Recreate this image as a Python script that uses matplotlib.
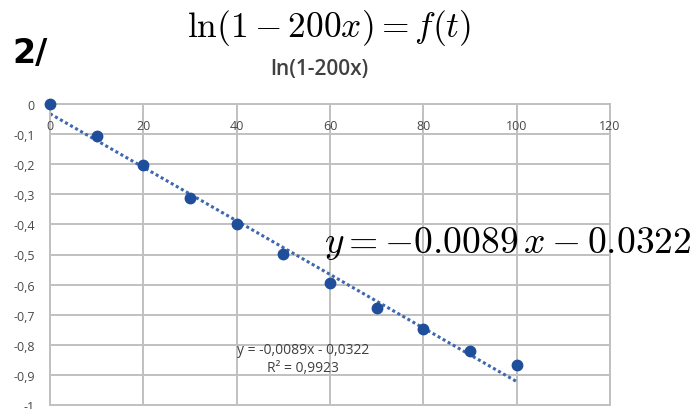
import numpy as np
import matplotlib.pyplot as plt

# measured points
t = [0, 10, 20, 30, 40, 50, 60, 70, 80, 90, 100]
ln_vals = [0.0, -0.107, -0.204, -0.312, -0.400, -0.498, -0.596, -0.677, -0.748, -0.820, -0.866]

# excel trendline
slope = -0.0089
intercept = -0.0322
r2_text = "R² = 0,9923"

x_ticks = [0, 20, 40, 60, 80, 100, 120]
y_ticks = [0, -0.1, -0.2, -0.3, -0.4, -0.5, -0.6, -0.7, -0.8, -0.9, -1]
y_labels = ["0", "-0,1", "-0,2", "-0,3", "-0,4", "-0,5", "-0,6", "-0,7", "-0,8", "-0,9", "-1"]

plt.rcParams['font.family'] = ['Open Sans', 'DejaVu Sans']
plt.rcParams['mathtext.fontset'] = 'cm'

fig = plt.figure(figsize=(7, 4.1), dpi=100)
ax = fig.add_axes([50 / 700, 1 - 406 / 410, 560 / 700, 301 / 410])

ax.set_xlim(0, 120)
ax.set_ylim(-1, 0)
ax.set_xticks(x_ticks)
ax.set_yticks(y_ticks)
ax.set_yticklabels(y_labels)
ax.set_xticklabels([])
ax.tick_params(length=0, labelsize=9, labelcolor='#484848', pad=11)
ax.grid(True, color='#c0c0c0', linewidth=1.4)
ax.set_axisbelow(True)
for s in ax.spines.values():
    s.set_color('#c0c0c0')
    s.set_linewidth(1.4)

# x labels sit just under the zero line (excel axis crossing)
for xv in x_ticks:
    ax.text(xv, -0.07, str(xv), ha='center', va='center', fontsize=9, color='#484848')

# trendline
tx = np.array([t[0], t[-1]])
ax.plot(tx, slope * tx + intercept, linestyle=(0, (1, 0.9)), color='#3d68b0', linewidth=2.2, zorder=2)
ax.plot(t, ln_vals, 'o', color='#1f4e9b', markersize=7.5, zorder=3, clip_on=False)

ax.text(54.3, -0.814, "y = -0,0089x - 0,0322", ha='center', va='center', fontsize=10,
        color='#404040')
ax.text(54.3, -0.874, r2_text, ha='center', va='center', fontsize=10, color='#404040')

fig.text(319 / 700, 1 - 70 / 410, "ln(1-200x)", ha='center', va='center', fontsize=15,
         fontweight='semibold', color='#404040')
fig.text(329 / 700, 1 - 28 / 410, r"$\ln(1-200x) = f(t)$", ha='center', va='center', fontsize=25.5,
         color='black')
fig.text(12 / 700, 1 - 54 / 410, "2/", ha='left', va='center', fontsize=24, fontweight='bold',
         family='DejaVu Sans')
fig.text(508 / 700, 1 - 243 / 410, r"$y = -0.0089\,x - 0.0322$", ha='center', va='center',
         fontsize=27, color='black')

fig.savefig('out.png', dpi=100)
